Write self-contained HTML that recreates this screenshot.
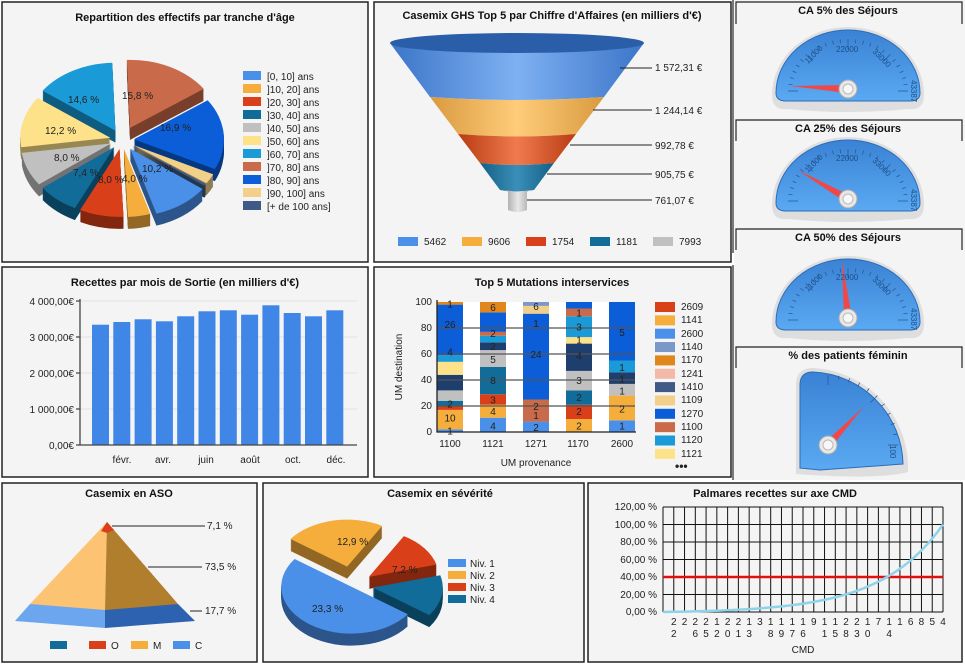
<!DOCTYPE html>
<html><head><meta charset="utf-8"><style>
html,body{margin:0;padding:0;background:#fff;width:965px;height:666px;overflow:hidden}
svg{display:block;font-family:"Liberation Sans",sans-serif}
.t{font-weight:bold;font-size:11px;fill:#111;text-anchor:middle}
.s{font-size:10px;fill:#222}
.g{font-size:8px;fill:#1d4f88}
</style></head><body>
<svg id="sv" width="965" height="666" viewBox="0 0 965 666" xmlns="http://www.w3.org/2000/svg">
<defs>
<linearGradient id="gb" x1="0" x2="1"><stop offset="0" stop-color="#3c75c9"/><stop offset=".5" stop-color="#7eb1f2"/><stop offset="1" stop-color="#3c75c9"/></linearGradient>
<linearGradient id="go" x1="0" x2="1"><stop offset="0" stop-color="#d99a3f"/><stop offset=".5" stop-color="#ffcc7a"/><stop offset="1" stop-color="#d99a3f"/></linearGradient>
<linearGradient id="gr" x1="0" x2="1"><stop offset="0" stop-color="#b83c12"/><stop offset=".5" stop-color="#f07a4e"/><stop offset="1" stop-color="#b83c12"/></linearGradient>
<linearGradient id="gt" x1="0" x2="1"><stop offset="0" stop-color="#145f86"/><stop offset=".5" stop-color="#3a8fb8"/><stop offset="1" stop-color="#145f86"/></linearGradient>
<linearGradient id="gg" x1="0" x2="1"><stop offset="0" stop-color="#a8a8a8"/><stop offset=".5" stop-color="#e8e8e8"/><stop offset="1" stop-color="#a8a8a8"/></linearGradient>
<linearGradient id="gd" x1="0" y1="0" x2="0" y2="1"><stop offset="0" stop-color="#3a82d4"/><stop offset="1" stop-color="#5aa9f2"/></linearGradient>
</defs>
<g fill="#f4f4f4" stroke="#222" stroke-width="1.5">
<rect x="2" y="2" width="366" height="260"/>
<rect x="374" y="2" width="357" height="260"/>
<rect x="2" y="267" width="366" height="210"/>
<rect x="374" y="267" width="357" height="210"/>
<rect x="2" y="483" width="255" height="179"/>
<rect x="263" y="483" width="321" height="179"/>
<rect x="588" y="483" width="374" height="179"/>
</g>
<rect x="734" y="0" width="231" height="480" fill="#f4f4f4"/>
<g stroke="#222" stroke-width="1.2" fill="none">
<path d="M733 0V253M733 265V480"/>
<path d="M736 24V2H962V24M736 141V120H962V141M736 250V229H962V250M736 368V347H962V368"/>
</g>
<text class="t" x="185" y="21">Repartition des effectifs par tranche d'âge</text>
<text class="t" x="552" y="19">Casemix GHS Top 5 par Chiffre d'Affaires (en milliers d'€)</text>
<text class="t" x="185" y="286">Recettes par mois de Sortie (en milliers d'€)</text>
<text class="t" x="552" y="286">Top 5 Mutations interservices</text>
<text class="t" x="129" y="497">Casemix en ASO</text>
<text class="t" x="440" y="497">Casemix en sévérité</text>
<text class="t" x="775" y="497">Palmares recettes sur axe CMD</text>
<text class="t" x="848" y="14">CA 5% des Séjours</text>
<text class="t" x="848" y="132">CA 25% des Séjours</text>
<text class="t" x="848" y="241">CA 50% des Séjours</text>
<text class="t" x="848" y="359">% des patients féminin</text>

<g id="pie1"></g>
<g class="s" font-size="10">
<text x="68" y="103">14,6 %</text><text x="122" y="99">15,8 %</text><text x="45" y="134">12,2 %</text>
<text x="160" y="131">16,9 %</text><text x="54" y="161">8,0 %</text><text x="142" y="172">10,2 %</text>
<text x="73" y="176">7,4 %</text><text x="98" y="183">8,0 %</text><text x="122" y="182">4,0 %</text>
</g>
<g id="leg1"></g>
<g class="s">
<text x="267" y="80">[0, 10] ans</text><text x="267" y="93">]10, 20] ans</text><text x="267" y="106">]20, 30] ans</text>
<text x="267" y="119">]30, 40] ans</text><text x="267" y="132">]40, 50] ans</text><text x="267" y="145">]50, 60] ans</text>
<text x="267" y="158">]60, 70] ans</text><text x="267" y="171">]70, 80] ans</text><text x="267" y="184">]80, 90] ans</text>
<text x="267" y="197">]90, 100] ans</text><text x="267" y="210">[+ de 100 ans]</text>
</g>

<path d="M390 43L430 97Q517 103 604 97L644 43Z" fill="url(#gb)"/>
<ellipse cx="517" cy="43" rx="127" ry="10" fill="#2b5ea8"/>
<path d="M430 97Q517 103 604 97L576 134Q517 139 458 134Z" fill="url(#go)"/>
<path d="M458 134Q517 139 576 134L554 163Q517 167 480 163Z" fill="url(#gr)"/>
<path d="M480 163Q517 167 554 163L534 190Q517 193 500 190Z" fill="url(#gt)"/>
<path d="M506 190L508 192V210Q517 214 527 210V192L530 190Q517 193 506 190Z" fill="url(#gg)"/>
<g stroke="#222" stroke-width="1"><path d="M620 68H652M593 110H652M570 145H652M547 174H652M527 200H652"/></g>
<g class="s"><text x="655" y="71">1 572,31 €</text><text x="655" y="114">1 244,14 €</text><text x="655" y="149">992,78 €</text><text x="655" y="178">905,75 €</text><text x="655" y="204">761,07 €</text></g>
<g><rect x="398" y="237" width="20" height="9" fill="#4a8fe8"/><rect x="462" y="237" width="20" height="9" fill="#f5ad3c"/><rect x="526" y="237" width="20" height="9" fill="#d9401a"/><rect x="590" y="237" width="20" height="9" fill="#126c99"/><rect x="653" y="237" width="20" height="9" fill="#c0c0c0"/></g>
<g class="s"><text x="424" y="245">5462</text><text x="488" y="245">9606</text><text x="552" y="245">1754</text><text x="616" y="245">1181</text><text x="679" y="245">7993</text></g>

<g stroke="#e2e2e2"><path d="M80 301H357M80 337H357M80 373H357M80 409H357"/></g>
<g id="bars"></g>
<g stroke="#444" stroke-width="1.3" fill="none"><path d="M80 299V445H357"/><path d="M76 301H80M76 337H80M76 373H80M76 409H80M76 445H80"/></g>
<g class="s" text-anchor="end"><text x="74" y="305">4 000,00€</text><text x="74" y="341">3 000,00€</text><text x="74" y="377">2 000,00€</text><text x="74" y="413">1 000,00€</text><text x="74" y="449">0,00€</text></g>
<g class="s" font-size="11" text-anchor="middle"><text x="122" y="463">févr.</text><text x="163" y="463">avr.</text><text x="206" y="463">juin</text><text x="250" y="463">août</text><text x="293" y="463">oct.</text><text x="336" y="463">déc.</text></g>

<rect x="437" y="302" width="198" height="130" fill="#fff"/>
<g id="mut"></g>
<g stroke="#555" stroke-width="1.2"><path d="M437 406H635M437 380H635M437 354H635M437 328H635"/></g>
<g stroke="#222" stroke-width="1.3" fill="none"><path d="M437 300V432H636"/></g>
<g id="mutl" class="s" font-size="10" text-anchor="middle" fill="#1a1a2a"></g>
<g class="s" text-anchor="end"><text x="432" y="305">100</text><text x="432" y="331">80</text><text x="432" y="357">60</text><text x="432" y="383">40</text><text x="432" y="409">20</text><text x="432" y="435">0</text></g>
<g class="s" text-anchor="middle"><text x="450" y="447">1100</text><text x="493" y="447">1121</text><text x="536" y="447">1271</text><text x="578" y="447">1170</text><text x="622" y="447">2600</text><text x="536" y="466">UM provenance</text></g>
<text class="s" transform="translate(402 367) rotate(-90)" text-anchor="middle">UM destination</text>
<g id="legm"></g>
<g class="s"><text x="681" y="310">2609</text><text x="681" y="323">1141</text><text x="681" y="337">2600</text><text x="681" y="350">1140</text><text x="681" y="363">1170</text><text x="681" y="377">1241</text><text x="681" y="390">1410</text><text x="681" y="403">1109</text><text x="681" y="417">1270</text><text x="681" y="430">1100</text><text x="681" y="443">1120</text><text x="681" y="457">1121</text><text x="675" y="470" font-weight="bold" font-size="12">•••</text></g>

<g id="gauges"></g>
<g class="g">
<text transform="translate(808 64) rotate(-45)">11000</text><text x="836" y="52">22000</text><text transform="translate(872 52) rotate(45)">33000</text><text transform="translate(911 80) rotate(90)">43387</text>
<text transform="translate(808 173) rotate(-45)">11000</text><text x="836" y="161">22000</text><text transform="translate(872 161) rotate(45)">33000</text><text transform="translate(911 189) rotate(90)">43387</text>
<text transform="translate(808 292) rotate(-45)">11000</text><text x="836" y="280">22000</text><text transform="translate(872 280) rotate(45)">33000</text><text transform="translate(911 308) rotate(90)">43387</text>
<text transform="translate(890 445) rotate(90)">100</text>
</g>

<path d="M107 522L30 604Q66 610 105 610Z" fill="#fcc373"/>
<path d="M107 522L178 604Q142 610 105 610Z" fill="#b07e2c"/>
<path d="M107 522L101 531L107 533L114 530Z" fill="#d9401a"/>
<path d="M30 604L15 621L105 628L105 610Z" fill="#6ba6ee"/>
<path d="M178 604L195 621L105 628L105 610Z" fill="#2d62b0"/>
<g stroke="#222"><path d="M112 526H205M148 567H202M190 611H202"/></g>
<g class="s"><text x="207" y="529">7,1 %</text><text x="205" y="570">73,5 %</text><text x="205" y="614">17,7 %</text></g>
<rect x="50" y="641" width="17" height="8" fill="#126c99"/><rect x="89" y="641" width="17" height="8" fill="#d9401a"/><rect x="131" y="641" width="17" height="8" fill="#f5ad3c"/><rect x="173" y="641" width="17" height="8" fill="#4a8fe8"/>
<g class="s"><text x="111" y="649">O</text><text x="153" y="649">M</text><text x="195" y="649">C</text></g>

<g id="pie2"></g>
<g class="s"><text x="337" y="545">12,9 %</text><text x="392" y="573">7,2 %</text><text x="312" y="612">23,3 %</text></g>
<rect x="448" y="559" width="18" height="8" fill="#4a8fe8"/><rect x="448" y="571" width="18" height="8" fill="#f5ad3c"/><rect x="448" y="583" width="18" height="8" fill="#d9401a"/><rect x="448" y="595" width="18" height="8" fill="#126c99"/>
<g class="s"><text x="470" y="567">Niv. 1</text><text x="470" y="579">Niv. 2</text><text x="470" y="591">Niv. 3</text><text x="470" y="603">Niv. 4</text></g>

<g id="palm"></g>
<g class="s" text-anchor="end"><text x="657" y="510">120,00 %</text><text x="657" y="528">100,00 %</text><text x="657" y="545">80,00 %</text><text x="657" y="563">60,00 %</text><text x="657" y="580">40,00 %</text><text x="657" y="598">20,00 %</text><text x="657" y="615">0,00 %</text></g>
<g id="palml" class="s" text-anchor="middle"></g>
<text class="s" x="803" y="653" text-anchor="middle">CMD</text>
</svg>
<script>
var NS="http://www.w3.org/2000/svg";
function el(p,t,a){var e=document.createElementNS(NS,t);for(var k in a)e.setAttribute(k,a[k]);p.appendChild(e);return e;}
function $(i){return document.getElementById(i);}
function shade(c,f){var n=parseInt(c.slice(1),16),r=(n>>16)*f,g=((n>>8)&255)*f,b=(n&255)*f;return "rgb("+(r|0)+","+(g|0)+","+(b|0)+")";}
function wedge(cx,cy,rx,ry,a0,a1){var r=Math.PI/180,x0=cx+rx*Math.cos(a0*r),y0=cy+ry*Math.sin(a0*r),x1=cx+rx*Math.cos(a1*r),y1=cy+ry*Math.sin(a1*r);return "M"+cx+" "+cy+"L"+x0+" "+y0+"A"+rx+" "+ry+" 0 "+((a1-a0)>180?1:0)+" 1 "+x1+" "+y1+"Z";}
function pie(g,cx,cy,rx,ry,d,sl){
 sl=sl.map(function(s){var m=(s[0]+s[1])/2*Math.PI/180;return {a0:s[0],a1:s[1],c:s[2],x:cx+s[3]*Math.cos(m),y:cy+s[3]*Math.sin(m)*ry/rx,k:Math.sin(m)};});
 sl.sort(function(a,b){return a.k-b.k;});
 sl.forEach(function(s){for(var i=d;i>0;i--)el(g,"path",{d:wedge(s.x,s.y+i,rx,ry,s.a0,s.a1),fill:shade(s.c,0.6)});el(g,"path",{d:wedge(s.x,s.y,rx,ry,s.a0,s.a1),fill:s.c});});
}
var C={lb:"#4a8fe8",or:"#f5ad3c",rd:"#d9401a",tl:"#126c99",gy:"#c0c0c0",yl:"#fde28a",cy:"#1a9ad6",br:"#c96a4a",bl:"#0b5ed7",bg:"#f2d08a",nv:"#3f5a85"};
pie($("pie1"),122,140,90,68,12,[
[-35,26,C.bl,12],[26,34.6,C.bg,12],[34.6,36.4,C.nv,12],[36.4,73,C.lb,14],[73,87.5,C.or,12],[87.5,116,C.rd,12],
[116,143,C.tl,12],[143,172,C.gy,12],[172,216,C.yl,12],[216,268,C.cy,14],[268,325,C.br,18]]);
var lc=[C.lb,C.or,C.rd,C.tl,C.gy,C.yl,C.cy,C.br,C.bl,C.bg,C.nv];
lc.forEach(function(c,i){el($("leg1"),"rect",{x:243,y:71+13*i,width:18,height:9,fill:c});});
pie($("pie2"),353,585,70,47,12,[[36,216,C.lb,3],[216,300,C.or,28],[300,345,C.rd,20],[345,396,C.tl,20]]);
var bt=[324.7,322,319.3,321.3,316.3,311.3,310.3,314.7,305.3,313,316.3,310.3];
bt.forEach(function(y,i){el($("bars"),"rect",{x:92+21.3*i,y:y,width:17,height:445-y,fill:"#3f86e6"});});
var cols=[437,480,523,566,609];
var segs=[
[[0,2,C.lb],[2,17,C.or],[17,20,C.rd],[20,24,C.tl],[24,32,C.gy],[32,44,"#1e3f6e"],[44,54,C.yl],[54,59,C.cy],[59,98,C.bl],[98,100,"#e0861c"]],
[[0,11,C.lb],[11,21,C.or],[21,29,C.rd],[29,50,C.tl],[50,63,C.gy],[63,69,"#1e3f6e"],[69,74,C.cy],[74,77,C.br],[77,92,C.bl],[92,100,"#e0861c"]],
[[0,8,C.lb],[8,25,C.br],[25,91,C.bl],[91,97,C.bg],[97,100,"#7c98c8"]],
[[0,10,C.or],[10,21,C.rd],[21,32,C.tl],[32,47,C.gy],[47,68,"#1e3f6e"],[68,73,C.yl],[73,89,C.cy],[89,95,C.br],[95,100,C.bl]],
[[0,9,C.lb],[9,28,C.or],[28,37,C.gy],[37,46,"#1e3f6e"],[46,55,C.cy],[55,100,C.bl]]];
segs.forEach(function(s,i){s.forEach(function(q){el($("mut"),"rect",{x:cols[i],y:432-q[1]*1.3,width:26,height:(q[1]-q[0])*1.3,fill:q[2]});});});
var lab=[[["1",1],["10",11],["2",22],["4",62],["26",83],["1",99]],[["4",5],["4",16],["3",25],["8",40],["5",56],["2",66],["2",76],["6",96]],
[["2",4],["1",13],["2",20],["24",60],["1",84],["6",97]],[["2",5],["2",16],["2",27],["3",40],["4",59],["1",71],["3",81],["1",92]],
[["1",5],["2",18],["1",32],["1",41],["1",50],["5",77]]];
lab.forEach(function(s,i){s.forEach(function(q){var t=el($("mutl"),"text",{x:cols[i]+13,y:432-q[1]*1.3+4});t.textContent=q[0];});});
["#d9401a","#f5ad3c","#4a8fe8","#7c98c8","#e0861c","#f2b8a8","#3f5a85","#f2d08a","#0b5ed7","#c96a4a","#1a9ad6","#fde28a"].forEach(function(c,i){el($("legm"),"rect",{x:655,y:302+13.35*i,width:20,height:10,fill:c});});
var G=$("gauges");
function half(cx,cy,ang){
 el(G,"path",{d:"M"+(cx-76)+" "+(cy+6)+"A76 68 0 0 1 "+(cx+76)+" "+(cy+6)+"Q"+(cx+76)+" "+(cy+22)+" "+(cx+60)+" "+(cy+20)+"Q"+cx+" "+(cy+26)+" "+(cx-60)+" "+(cy+20)+"Q"+(cx-76)+" "+(cy+22)+" "+(cx-76)+" "+(cy+6)+"Z",fill:"#dedede"});
 el(G,"path",{d:"M"+(cx-72)+" "+(cy+4)+"A72 63 0 0 1 "+(cx+72)+" "+(cy+4)+"Q"+(cx+72)+" "+(cy+12)+" "+(cx+62)+" "+(cy+12)+"L"+(cx-62)+" "+(cy+12)+"Q"+(cx-72)+" "+(cy+12)+" "+(cx-72)+" "+(cy+4)+"Z",fill:"url(#gd)",stroke:"#2c6cb8","stroke-width":1});
 for(var a=180;a<=360;a+=7.5){var r=Math.PI/180,l=(a%45==0)?10:4;el(G,"line",{x1:cx+60*Math.cos(a*r),y1:cy+2+52*Math.sin(a*r),x2:cx+(60-l)*Math.cos(a*r),y2:cy+2+(52-l)*Math.sin(a*r),stroke:"#2a5d99","stroke-width":.8});}
 needle(cx,cy,ang,58);
}
function needle(cx,cy,ang,L){var r=ang*Math.PI/180,px=-Math.sin(r),py=Math.cos(r);
 el(G,"path",{d:"M"+(cx+px*4)+" "+(cy+py*4)+"L"+(cx+L*Math.cos(r))+" "+(cy+L*Math.sin(r))+"L"+(cx-px*4)+" "+(cy-py*4)+"Z",fill:"#f04848"});
 el(G,"circle",{cx:cx,cy:cy,r:9,fill:"#e8e8e8",stroke:"#aaa"});el(G,"circle",{cx:cx,cy:cy,r:5,fill:"#f8f8f8",stroke:"#bbb"});}
half(848,89,183);half(848,199,210);half(848,318,264);
el(G,"path",{d:"M796 474L796 385Q796 368 813 368A100 100 0 0 1 908 472Q880 480 796 474Z",fill:"#dedede"});
el(G,"path",{d:"M800 468L800 385Q800 372 813 372A94 94 0 0 1 903 464L820 470Z",fill:"url(#gd)",stroke:"#2c6cb8"});
for(var a=270;a<=360;a+=9){var r=Math.PI/180,l=(a%45==0)?10:4;el(G,"line",{x1:828+70*Math.cos(a*r),y1:445+70*Math.sin(a*r),x2:828+(70-l)*Math.cos(a*r),y2:445+(70-l)*Math.sin(a*r),stroke:"#2a5d99","stroke-width":.8});}
needle(828,445,-47,52);
var P=$("palm");
for(var i=0;i<=26;i++){var x=663+280*i/26;el(P,"line",{x1:x,y1:507,x2:x,y2:612,stroke:"#111","stroke-width":1});}
for(var j=0;j<=6;j++){var y=507+17.5*j;el(P,"line",{x1:663,y1:y,x2:943,y2:y,stroke:"#111","stroke-width":1});}
el(P,"line",{x1:663,y1:577,x2:943,y2:577,stroke:"#e01010","stroke-width":2.5});
var pts=[];for(var t=0;t<=1.0001;t+=0.02){var p=(Math.exp(4.5*t)-1)/(Math.exp(4.5)-1);pts.push((663+280*t)+","+(612-p*87.5));}
el(P,"polyline",{points:pts.join(" "),fill:"none",stroke:"#8fd3ea","stroke-width":2.5});
var r1="22221221311119112217116854",r2="2 652013 8976 15830 4     ";
for(var i=1;i<=26;i++){var x=663+280*i/26;var a=el($("palml"),"text",{x:x,y:625});a.textContent=r1[i-1];var c=r2[i-1];if(c&&c!=" "){var b=el($("palml"),"text",{x:x,y:637});b.textContent=c;}}
</script>
</body></html>
